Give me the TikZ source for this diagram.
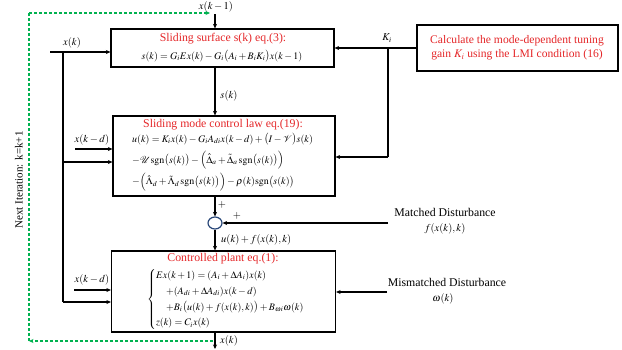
\documentclass[tikz,border=0pt]{standalone}
\usepackage{amsmath}
\usepackage{mathptmx}
\usepackage{fontspec}
\setmainfont{Liberation Serif}
\usetikzlibrary{arrows.meta,shapes.geometric}
\definecolor{titlered}{RGB}{228,38,40}
\definecolor{itergreen}{RGB}{0,178,80}
\definecolor{sumblue}{RGB}{40,70,120}
\tikzset{
  blk/.style={draw, line width=1.2pt, inner sep=0pt},
  wire/.style={line width=1.2pt},
  arr/.style={line width=1.2pt, -{Stealth[length=4.5pt,width=4pt]}},
  garr/.style={line width=1.3pt, itergreen, dash pattern=on 3pt off 2pt, -{Stealth[length=4.5pt,width=4pt]}},
  gline/.style={line width=1.3pt, itergreen, dash pattern=on 3pt off 2pt},
  ttl/.style={text=titlered, font=\fontsize{11.8}{13}\selectfont, inner sep=0pt},
  eq/.style={font=\fontsize{10}{12}\selectfont, inner sep=0pt},
  lbl/.style={font=\fontsize{10.5}{12}\selectfont, inner sep=0pt},
  dist/.style={font=\fontsize{11.8}{13}\selectfont, inner sep=0pt},
}
\begin{document}
\begin{tikzpicture}[x=1pt,y=-1pt]
\useasboundingbox (0,0) rectangle (622,349);
% boxes
\node[blk, minimum width=223pt, minimum height=38pt] (b1) at (222.5,48) {};
\node[blk, minimum width=222pt, minimum height=80pt] (b2) at (224,156) {};
\node[blk, minimum width=224pt, minimum height=81pt] (b3) at (223.5,291.5) {};
\node[blk, minimum width=201pt, minimum height=46pt] (lmi) at (517.5,48) {};
% box texts
\node[ttl] (t1) at (223,39) {Sliding surface s(k) eq.(3):};
\node[eq] (e1) at (222,56.5) {$s(k)=G_iEx(k)-G_i\bigl(A_i+B_iK_i\bigr)x(k-1)$};
\node[ttl] (t2) at (223,125) {Sliding mode control law eq.(19):};
\node[eq, anchor=west] (e2a) at (132,139.5) {$u(k)=K_ix(k)-G_iA_{di}x(k-d)+\bigl(I-\mathcal{V}\bigr)s(k)$};
\node[eq, anchor=west] (e2b) at (132,160.5) {$-\mathcal{U}\mathrm{sgn}\bigl(s(k)\bigr)-\Bigl(\hat{\Delta}_a+\tilde{\Delta}_a\,\mathrm{sgn}\bigl(s(k)\bigr)\Bigr)$};
\node[eq, anchor=west] (e2c) at (132,182) {$-\Bigl(\hat{\Lambda}_d+\tilde{\Lambda}_d\,\mathrm{sgn}\bigl(s(k)\bigr)\Bigr)-\rho(k)\mathrm{sgn}\bigl(s(k)\bigr)$};
\node[ttl] (t3) at (223,259) {Controlled plant eq.(1):};
\node[eq, anchor=west] (e3) at (147,299) {$\left\{\renewcommand{\arraystretch}{1.32}\begin{array}{@{}l@{}}
Ex(k+1)=(A_i+\Delta A_i)x(k)\\
\quad+(A_{di}+\Delta A_{di})x(k-d)\\
\quad+B_i\bigl(u(k)+f(x(k),k)\bigr)+B_{\omega i}\omega(k)\\
z(k)=C_ix(k)
\end{array}\right.$};
\node[text=titlered, font=\fontsize{11.6}{14}\selectfont, align=center, inner sep=0pt] (tl) at (517,48) {Calculate the mode-dependent tuning\\gain $K_i$ using the LMI condition (16)};
% sum junction
\node[draw=sumblue, line width=1.2pt, ellipse, minimum width=14pt, minimum height=12pt, inner sep=0pt] (sum) at (215,223) {};
% coordinates
\coordinate (xkm1) at (215,14);
\coordinate (xin) at (50,52);
\coordinate (jx) at (63,52);
\coordinate (jx2) at (63,162);
\coordinate (jx3) at (63,302);
\coordinate (xd2) at (75,149);
\coordinate (xd3) at (74,290);
\coordinate (jk) at (388,48);
\coordinate (jk2) at (388,157);
\coordinate (md) at (388,223);
\coordinate (mmd) at (387,292);
\coordinate (xout) at (215,349);
\coordinate (g0) at (213,341);
\coordinate (g1) at (29,341);
\coordinate (g2) at (29,13);
\coordinate (g3) at (210,13);
% connectors
\draw[arr] (xkm1) -- (b1.north -| xkm1);
\draw[arr] (xin) -- (b1.west |- xin);
\draw[wire] (jx) -- (jx3);
\draw[arr] (jx2) -- (b2.west |- jx2);
\draw[arr] (jx3) -- (b3.west |- jx3);
\draw[arr] (xd2) -- (b2.west |- xd2);
\draw[arr] (xd3) -- (b3.west |- xd3);
\draw[arr] (lmi.west |- jk) -- (b1.east |- jk);
\draw[wire] (jk) -- (jk2);
\draw[arr] (jk2) -- (b2.east |- jk2);
\draw[arr] (b1.south -| xkm1) -- (b2.north -| xkm1);
\draw[arr] (b2.south -| sum) -- (sum.north);
\draw[arr] (md) -- (sum.east);
\draw[arr] (sum.south) -- (b3.north -| sum);
\draw[arr] (mmd) -- (b3.east |- mmd);
\draw[arr] (b3.south -| xkm1) -- (xout);
\draw[garr] (g0) -- (g1);
\draw[gline] (g1) -- (g2);
\draw[garr] (g2) -- (g3);
% labels
\node[lbl] (lxkm1) at (216,7) {$x(k-1)$};
\node[lbl] (lxk) at (72,43) {$x(k)$};
\node[lbl] (lxd2) at (92,140) {$x(k-d)$};
\node[lbl] (lxd3) at (92,280) {$x(k-d)$};
\node[lbl] (lki) at (387,38) {$K_i$};
\node[lbl] (lsk) at (229,96) {$s(k)$};
\node[lbl] (lp1) at (222,205) {$+$};
\node[lbl] (lp2) at (237,216) {$+$};
\node[lbl, anchor=west] (luf) at (221,240) {$u(k)+f(x(k),k)$};
\node[lbl] (lxo) at (229,341) {$x(k)$};
\node[dist] (lmd) at (445,212) {Matched Disturbance};
\node[lbl] (lfd) at (445,229) {$f(x(k),k)$};
\node[dist] (lmm) at (447,282) {Mismatched Disturbance};
\node[lbl] (lw) at (443,299) {$\omega(k)$};
\node[font=\fontsize{11}{13}\selectfont, rotate=90, inner sep=0pt] (niter) at (19,180) {Next Iteration: k=k+1};
\end{tikzpicture}
\end{document}
